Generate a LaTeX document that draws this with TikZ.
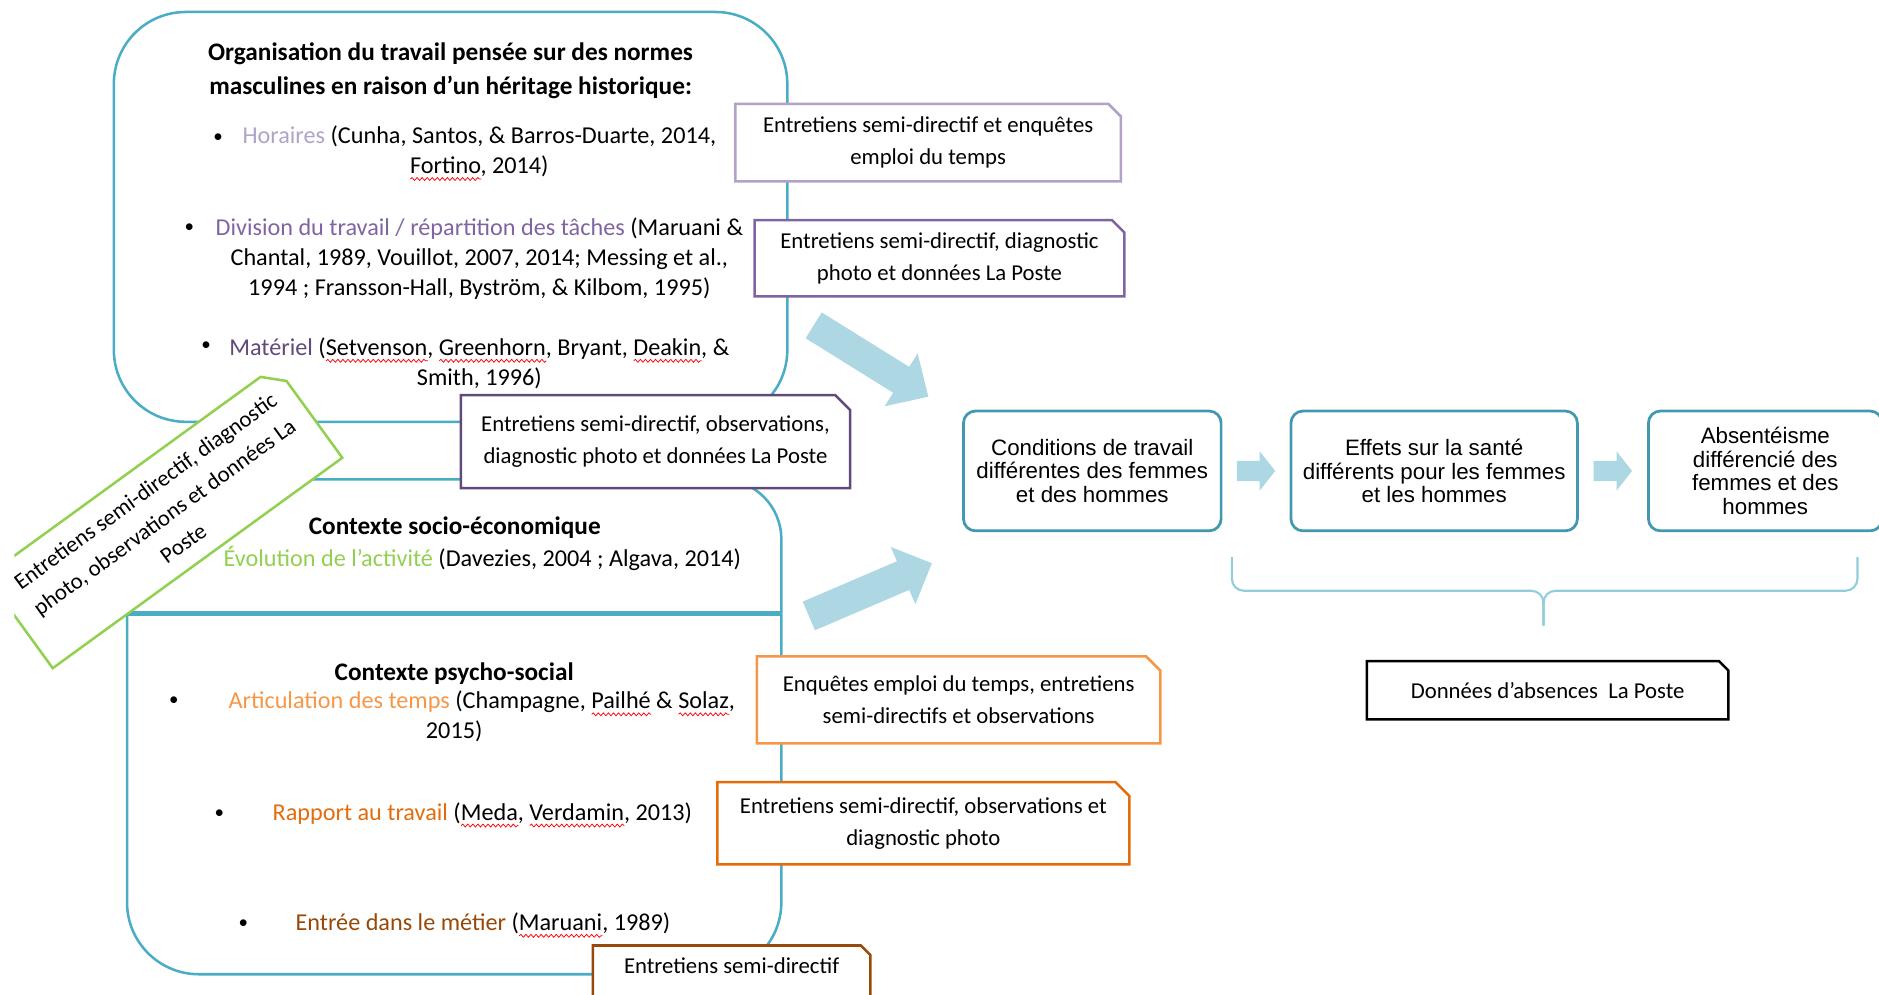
\documentclass[tikz,border=0pt]{standalone}
\usepackage{fontspec}
\setmainfont{Carlito}
\newfontfamily\arialfont{Liberation Sans}
\usetikzlibrary{calc, positioning}
\usetikzlibrary{decorations.pathmorphing}

\definecolor{boxblue}{HTML}{4BACC6}
\definecolor{flowteal}{HTML}{4299AF}
\definecolor{arrowblue}{HTML}{ADD7E3}
\definecolor{bracecol}{HTML}{92CDDC}
\definecolor{lilac}{HTML}{B3A2C7}
\definecolor{midviolet}{HTML}{8064A2}
\definecolor{deepviolet}{HTML}{604A7B}
\definecolor{grassgreen}{HTML}{92D050}
\definecolor{lightorange}{HTML}{F79646}
\definecolor{deeporange}{HTML}{E46C0A}
\definecolor{rustbrown}{HTML}{984807}

% red wavy underline of the spell checker
\newlength{\spellwd}
\newcommand{\spell}[1]{\settowidth{\spellwd}{#1}\leavevmode\rlap{\tikz[baseline=0pt]\draw[red, line width=0.35pt, decorate, decoration={snake, amplitude=0.7pt, segment length=2.4pt}] (0pt,-2.6pt) -- (\spellwd,-2.6pt);}#1}

% frame with the upper right corner cut off
\newcommand{\snipframe}[3]{\draw[#2, line width=1.2pt] (#1.south west) -- (#1.north west) -- ($(#1.north east)!#3!(#1.north west)$) -- ($(#1.north east)!#3!(#1.south east)$) -- (#1.south east) -- cycle;}

\begin{document}
\begin{tikzpicture}[x=0.2mm, y=-0.2mm,
  bigbox/.style={draw=boxblue, line width=1.2pt, rounded corners=12mm},
  bodytext/.style={align=center, inner sep=0pt, font=\fontsize{11.5}{14.2}\selectfont},
  titletext/.style={align=center, inner sep=0pt, font=\fontsize{12}{15.9}\selectfont\bfseries},
  bulletmark/.style={inner sep=0pt, font=\fontsize{9}{9}\selectfont},
  callout/.style={fill=white, align=center, inner sep=0pt, font=\fontsize{10.8}{15.3}\selectfont},
  flowbox/.style={draw=flowteal, line width=1.3pt, rounded corners=2mm, fill=white, align=center, minimum height=2cm, inner sep=0pt, font=\arialfont\fontsize{10.6}{11.2}\selectfont},
  arrowfill/.style={fill=arrowblue},
  bracestyle/.style={draw=bracecol, line width=1pt, rounded corners=2mm}]
\useasboundingbox (0,0) rectangle (1568,830);
\begin{scope}
\clip (12,0) rectangle (1568,830);

% the three blue frames
\draw[bigbox] (95,10) rectangle (657,352);
\draw[bigbox, rounded corners=10mm] (106,512) -- (106,400) -- (652,400) -- (652,512);
\draw[bigbox] (106,512) -- (106,813) -- (652,813) -- (652,512);
\draw[draw=boxblue, line width=2.4pt] (106,512) -- (652,512);

% organisation du travail
\node[titletext] (orgTitle) at (376,59) {Organisation du travail pensée sur des normes\\masculines en raison d’un héritage historique:};
\node[bulletmark] (bulHoraires) at (182,115) {•};
\node[bodytext] (horaires) at (400,128) {\textcolor{lilac}{Horaires} (Cunha, Santos, \& Barros-Duarte, 2014,\\\spell{Fortino}, 2014)};
\node[bulletmark] (bulDivision) at (158,190) {•};
\node[bodytext] (division) at (400,216) {\textcolor{midviolet}{Division du travail / répartition des tâches} (Maruani \&\\Chantal, 1989, Vouillot, 2007, 2014; Messing et al.,\\1994 ; Fransson-Hall, Byström, \& Kilbom, 1995)};
\node[bulletmark] (bulMateriel) at (172,289) {•};
\node[bodytext] (materiel) at (400,303) {\textcolor{deepviolet}{Matériel} (\spell{Setvenson}, \spell{Greenhorn}, Bryant, \spell{Deakin}, \&\\Smith, 1996)};

% contexte socio-economique
\node[titletext] (socioTitle) at (379.5,440) {Contexte socio-économique};
\node[bodytext] (evolution) at (402.5,466) {\textcolor{grassgreen}{Évolution de l'activité} (Davezies, 2004 ; Algava, 2014)};

% contexte psycho-social
\node[titletext] (psychoTitle) at (379,562) {Contexte psycho-social};
\node[bulletmark] (bulArticul) at (145,585) {•};
\node[bodytext] (articulation) at (402,598) {\textcolor{lightorange}{Articulation des temps} (Champagne, \spell{Pailhé} \& \spell{Solaz},\\\hspace*{-0.92cm}2015)};
\node[bulletmark] (bulRapport) at (183,679) {•};
\node[bodytext] (rapport) at (402.5,680) {\textcolor{deeporange}{Rapport au travail} (\spell{Meda}, \spell{Verdamin}, 2013)};
\node[bulletmark] (bulEntree) at (203,771) {•};
\node[bodytext] (entree) at (403,772) {\textcolor{rustbrown}{Entrée dans le métier} (\spell{Maruani}, 1989)};

% methods
\node[callout, minimum width=6.42cm, minimum height=1.28cm] (mHoraires) at (774.5,119) {Entretiens semi-directif et enquêtes\\emploi du temps};
\snipframe{mHoraires}{lilac}{2.1mm}
\node[callout, minimum width=6.16cm, minimum height=1.26cm] (mDivision) at (784,215.5) {Entretiens semi-directif, diagnostic\\photo et données La Poste};
\snipframe{mDivision}{midviolet}{2.1mm}
\node[callout, minimum width=6.48cm, minimum height=1.54cm] (mMateriel) at (547,368.5) {Entretiens semi-directif, observations,\\diagnostic photo et données La Poste};
\snipframe{mMateriel}{deepviolet}{2.5mm}
\node[callout, rotate=36, minimum width=5.96cm, minimum height=1.88cm] (mEvolution) at (137,431.5) {Entretiens semi-directif, diagnostic\\photo, observations et données La\\Poste};
\snipframe{mEvolution}{grassgreen}{3.1mm}
\node[callout, minimum width=6.72cm, minimum height=1.44cm] (mArticul) at (800,584) {Enquêtes emploi du temps, entretiens\\semi-directifs et observations};
\snipframe{mArticul}{lightorange}{2.4mm}
\node[callout, minimum width=6.86cm, minimum height=1.36cm] (mRapport) at (770.5,687) {Entretiens semi-directif, observations et\\diagnostic photo};
\snipframe{mRapport}{deeporange}{2.3mm}
\node[callout, anchor=north, minimum width=4.62cm, text height=0.46cm, text depth=0.74cm] (mEntree) at (610.5,789) {Entretiens semi-directif};
\snipframe{mEntree}{rustbrown}{1.6mm}

% big arrows to the chain
\fill[arrowfill, shift={(679,271.5)}, rotate=-31.9] (0,-12.7) -- (86,-12.7) -- (86,-26) -- (112.7,0) -- (86,26) -- (86,12.7) -- (0,12.7) -- cycle;
\fill[arrowfill, shift={(675,514)}, rotate=23.2] (0,-13) -- (85.5,-13) -- (85.5,-26) -- (111.7,0) -- (85.5,26) -- (85.5,13) -- (0,13) -- cycle;

% chain
\node[flowbox, minimum width=4.3cm] (condTravail) at (911.5,393) {Conditions de travail\\différentes des femmes\\et des hommes};
\node[flowbox, minimum width=4.78cm, right=11.2mm of condTravail] (effetsSante) {Effets sur la santé\\différents pour les femmes\\et les hommes};
\node[flowbox, minimum width=3.9cm, right=11.4mm of effetsSante] (absenteisme) {Absentéisme\\différencié des\\femmes et des\\hommes};
\fill[arrowfill, shift={($(condTravail.east)!.5!(effetsSante.west)$)}] (-16,-8.5) -- (3,-8.5) -- (3,-16.5) -- (16,0) -- (3,16.5) -- (3,8.5) -- (-16,8.5) -- cycle;
\fill[arrowfill, shift={($(effetsSante.east)!.5!(absenteisme.west)$)}] (-16,-8.5) -- (3,-8.5) -- (3,-16.5) -- (16,0) -- (3,16.5) -- (3,8.5) -- (-16,8.5) -- cycle;

% brace and data
\draw[bracestyle] (1028,465) -- (1028,493) -- (1288,493) -- (1288,522);
\draw[bracestyle] (1550,465) -- (1550,493) -- (1288,493) -- (1288,522);
\node[callout, minimum width=6.02cm, minimum height=0.96cm] (absences) at (1291.5,576) {Données d’absences\ \ La Poste};
\snipframe{absences}{black}{1.6mm}
\end{scope}
\end{tikzpicture}
\end{document}
